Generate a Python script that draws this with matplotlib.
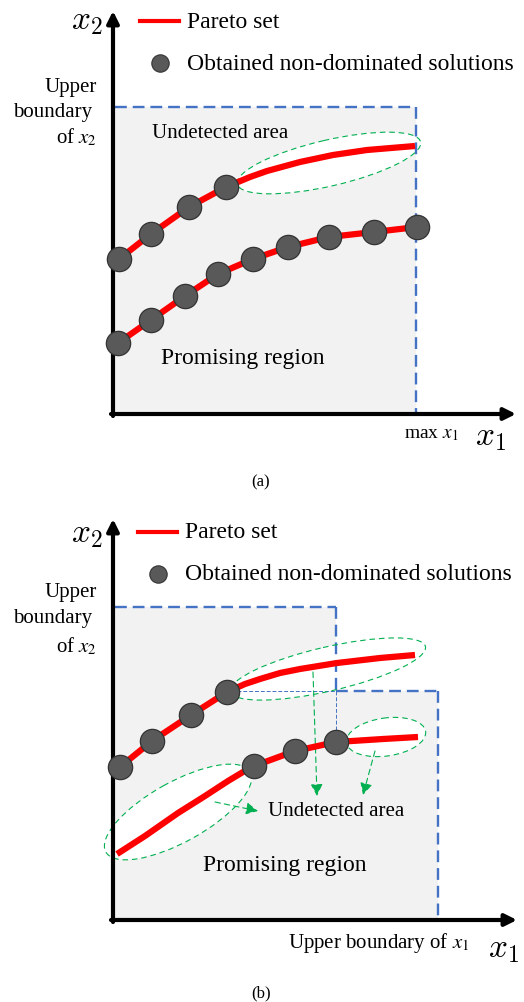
import matplotlib.pyplot as plt
from matplotlib.patches import Ellipse, Polygon

plt.rcParams["font.family"] = ["Liberation Serif", "DejaVu Serif"]
plt.rcParams["mathtext.fontset"] = "stix"

# Schematic drawn in image pixel units (y grows downwards)
RED = "#FF0000"
DOT = "#595959"
BLUE = "#4472C4"
GREEN = "#00B050"
GRAY = "#F2F2F2"

# ---- panel (a) ----
a_origin = (113, 415)
a_tip_y, a_tip_x = 12, 516
a_box = (113, 108, 416, 415)  # left, top, right, bottom

a_upper_x = [119, 151, 189, 226, 250, 267, 300, 333, 367, 415]
a_upper_y = [260, 235, 208, 188, 178, 172, 163, 156, 151, 147]
a_upper_pts_x = [119, 151, 189, 226]
a_upper_pts_y = [260, 235, 208, 188]
a_lower_x = [118, 151, 185, 218, 253, 288, 329, 374, 417]
a_lower_y = [344, 321, 297, 275, 260, 248, 238, 233, 228]

a_ellipses = [((329, 164), 188, 46, -13)]

# ---- panel (b) ----
b_origin = (113, 921)
b_tip_y, b_tip_x = 520, 517
b_box1 = (113, 608, 336, 921)
b_box2 = (336, 692, 438, 921)

b_upper_x = [120, 152, 191, 227, 245, 260, 280, 300, 337, 380, 415]
b_upper_y = [768, 742, 716, 693, 685, 680, 674, 670, 664, 659, 656]
b_upper_pts_x = [120, 152, 191, 227]
b_upper_pts_y = [768, 742, 716, 693]
b_lower_x = [117, 145, 178, 205, 228, 243, 254, 295, 336, 352, 383, 418]
b_lower_y = [855, 837, 814, 797, 782, 773, 767, 752, 743, 742, 740, 738]
b_lower_pts_x = [254, 295, 336]
b_lower_pts_y = [767, 752, 743]

b_ellipses = [((328, 670), 200, 44, -13),
              ((386, 738), 80, 38, -8),
              ((178, 813), 165, 60, -29)]
b_arrows = [((215, 803), (258, 812)),
            ((313, 673), (317, 797)),
            ((375, 752), (363, 796))]

fig = plt.figure(figsize=(5.24, 10.03), dpi=100)
ax = fig.add_axes([0, 0, 1, 1])
ax.set_xlim(0, 524)
ax.set_ylim(1003, 0)
ax.set_aspect("equal")
ax.axis("off")

blue_kw = dict(color=BLUE, lw=1.7, dashes=(5, 2.5), zorder=3)
green_kw = dict(edgecolor=GREEN, lw=0.8, linestyle=(0, (5, 3.5)))


def draw_axes(origin, tip_x, tip_y, yoff):
    ox, oy = origin
    arrow = dict(arrowstyle="-|>,head_length=0.7,head_width=0.35", lw=3,
                 color="k", shrinkA=0, shrinkB=0)
    ax.annotate("", xy=(ox, tip_y), xytext=(ox, oy + 2), arrowprops=arrow,
                zorder=6)
    ax.annotate("", xy=(tip_x, oy), xytext=(ox - 2, oy), arrowprops=arrow,
                zorder=6)
    ax.text(87, yoff + 22, r"$x_2$", fontsize=24, math_fontfamily="cm",
            ha="center", va="center")


def legend(yoff, x0):
    ax.plot([x0, x0 + 39], [yoff, yoff], color=RED, lw=3)
    ax.text(x0 + 47, yoff, "Pareto set", fontsize=17, va="center")
    ax.plot([x0 + 20], [yoff + 42], "o", ms=12.5, mfc=DOT, mec="#333333",
            mew=0.8)
    ax.text(x0 + 47, yoff + 42, "Obtained non-dominated solutions",
            fontsize=17, va="center")


def upper_boundary_label(ys):
    ax.text(97, ys[0], "Upper", fontsize=15, ha="right", va="center")
    ax.text(92, ys[1], "boundary", fontsize=15, ha="right", va="center")
    ax.text(97, ys[2], r"of $x_2$", fontsize=15, ha="right", va="center")


def curve(xs, ys, px, py):
    ax.plot(xs, ys, color=RED, lw=4.5, solid_capstyle="butt",
            solid_joinstyle="round", zorder=7)
    ax.plot(px, py, "o", ms=17.5, mfc=DOT, mec="#333333", mew=0.9, zorder=8)


def white_ellipses(specs):
    for (c, w, h, ang) in specs:
        ax.add_patch(Ellipse(c, w, h, angle=ang, facecolor="white",
                             edgecolor="none", zorder=2))
        ax.add_patch(Ellipse(c, w, h, angle=ang, facecolor="none",
                             zorder=5, **green_kw))


# ---------- panel (a) ----------
l, t, r, b = a_box
ax.add_patch(Polygon([(l, t), (r, t), (r, b), (l, b)], closed=True,
                     facecolor=GRAY, edgecolor="none", zorder=1))
white_ellipses(a_ellipses)
ax.plot([l + 2, r], [t, t], **blue_kw)
ax.plot([r, r], [t, b], **blue_kw)
draw_axes(a_origin, a_tip_x, a_tip_y, 0)
legend(22, 140)
upper_boundary_label([87, 112, 137])
curve(a_upper_x, a_upper_y, a_upper_pts_x, a_upper_pts_y)
curve(a_lower_x, a_lower_y, a_lower_x, a_lower_y)
ax.text(152, 133, "Undetected area", fontsize=15, va="center")
ax.text(161, 358, "Promising region", fontsize=17, va="center")
ax.text(404, 435, r"max $x_1$", fontsize=14, va="center")
ax.text(490, 438, r"$x_1$", fontsize=24, math_fontfamily="cm",
        ha="center", va="center")
ax.text(261, 482, "(a)", fontsize=12, ha="center", va="center")

# ---------- panel (b) ----------
l1, t1, r1, b1 = b_box1
l2, t2, r2, b2 = b_box2
ax.add_patch(Polygon([(l1, t1), (r1, t1), (r1, t2), (r2, t2), (r2, b2),
                      (l1, b1)], closed=True, facecolor=GRAY,
                     edgecolor="none", zorder=1))
white_ellipses(b_ellipses)
ax.plot([l1 + 2, r1], [t1, t1], **blue_kw)
ax.plot([r1, r1], [t1, t2], **blue_kw)
ax.plot([r1, r2], [t2, t2], **blue_kw)
ax.plot([r2, r2], [t2, b2], **blue_kw)
thin = dict(color=BLUE, lw=0.7, dashes=(4, 2), zorder=4)
ax.plot([b_upper_pts_x[-1] + 10, r1], [t2, t2], **thin)
ax.plot([r1, r1], [t2, b_lower_pts_y[-1] - 10], **thin)
for (s, e) in b_arrows:
    ax.annotate("", xy=e, xytext=s, zorder=5,
                arrowprops=dict(arrowstyle="-|>,head_length=0.6,head_width=0.3",
                                color=GREEN, lw=0.8, linestyle=(0, (5, 3.5)),
                                shrinkA=0, shrinkB=0, mutation_scale=12))
draw_axes(b_origin, b_tip_x, b_tip_y, 513)
legend(533, 138)
upper_boundary_label([593, 619, 646])
curve(b_upper_x, b_upper_y, b_upper_pts_x, b_upper_pts_y)
curve(b_lower_x, b_lower_y, b_lower_pts_x, b_lower_pts_y)
ax.text(268, 812, "Undetected area", fontsize=15, va="center")
ax.text(203, 866, "Promising region", fontsize=17, va="center")
ax.text(288, 943, r"Upper boundary of $x_1$", fontsize=15, va="center")
ax.text(503, 950, r"$x_1$", fontsize=24, math_fontfamily="cm",
        ha="center", va="center")
ax.text(261, 993, "(b)", fontsize=12, ha="center", va="center")

fig.savefig("out.png", dpi=100)
